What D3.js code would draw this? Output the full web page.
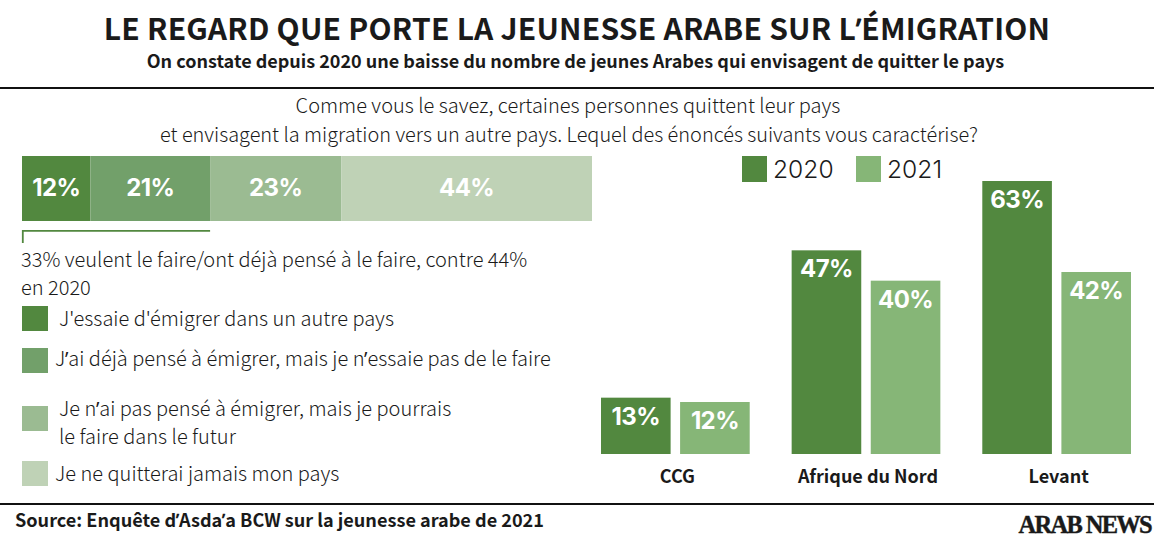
<!DOCTYPE html>
<html>
<head>
<meta charset="utf-8">
<script src="https://cdn.jsdelivr.net/npm/d3@7"></script>
<style>
  /* the CJK font has a full-width apostrophe, take that one glyph from elsewhere */
  @font-face { font-family: "Apos"; src: local("Open Sans"); unicode-range: U+2019; }
  html, body { margin: 0; padding: 0; background: #fff; }
  svg { display: block; }
  text { font-family: "Apos", "Noto Sans CJK SC", "Noto Sans", sans-serif; fill: #1a1a1a; }
  .num { font-family: Inter, sans-serif; font-weight: 700; fill: #fff; letter-spacing: -0.6px; }
</style>
</head>
<body>
<div id="chart"></div>
<script>
// stacked bar
var answers = [
  "J'essaie d'émigrer dans un autre pays",
  "J’ai déjà pensé à émigrer, mais je n’essaie pas de le faire",
  "Je n’ai pas pensé à émigrer, mais je pourrais|le faire dans le futur",
  "Je ne quitterai jamais mon pays"
];
var answerValues = [12, 21, 23, 44];
var answerColors = ["#52883f", "#72a06a", "#9bbb92", "#bfd2b6"];

// grouped bars
var regions = ["CCG", "Afrique du Nord", "Levant"];
var years = ["2020", "2021"];
var values2020 = [13, 47, 63];
var values2021 = [12, 40, 42];
var yearColors = ["#52883f", "#86b677"];

var width = 1154, height = 539;

var svg = d3.select("#chart").append("svg")
    .attr("width", width)
    .attr("height", height);

function addText(x, y, str, size, weight, anchor, spacing) {
  return svg.append("text")
      .attr("x", x)
      .attr("y", y)
      .attr("font-size", size)
      .attr("font-weight", weight || 300)
      .attr("text-anchor", anchor || "start")
      .attr("letter-spacing", spacing || 0)
      .text(str);
}

// header
addText(577, 40, "LE REGARD QUE PORTE LA JEUNESSE ARABE SUR L’ÉMIGRATION", 30, 700, "middle", 0.22);
addText(575.5, 68, "On constate depuis 2020 une baisse du nombre de jeunes Arabes qui envisagent de quitter le pays", 18, 700, "middle");
svg.append("rect").attr("x", 0).attr("y", 87).attr("width", width).attr("height", 2).attr("fill", "#111");

addText(568, 113, "Comme vous le savez, certaines personnes quittent leur pays", 20, 300, "middle");
addText(569, 142, "et envisagent la migration vers un autre pays. Lequel des énoncés suivants vous caractérise?", 19.9, 300, "middle");

// stacked bar
var xStack = d3.scaleLinear().domain([0, d3.sum(answerValues)]).range([22, 592]);
var stackTop = 156, stackH = 65;
var cum = d3.cumsum(answerValues);

svg.selectAll(".seg")
    .data(answerValues)
  .enter().append("rect")
    .attr("class", "seg")
    .attr("x", function(d, i) { return xStack(cum[i] - d); })
    .attr("y", stackTop)
    .attr("width", function(d) { return xStack(d) - xStack(0); })
    .attr("height", stackH)
    .attr("fill", function(d, i) { return answerColors[i]; });

svg.selectAll(".segLabel")
    .data(answerValues)
  .enter().append("text")
    .attr("class", "segLabel num")
    .attr("x", function(d, i) { return xStack(cum[i] - d / 2); })
    .attr("y", stackTop + 40)
    .attr("font-size", 24)
    .attr("text-anchor", "middle")
    .text(function(d) { return d + "%"; });

// bracket under the first two segments
svg.append("path")
    .attr("d", "M22.8,243V230.8H" + xStack(cum[1]))
    .attr("fill", "none")
    .attr("stroke", "#52883f")
    .attr("stroke-width", 1.8);

addText(21, 267, "33% veulent le faire/ont déjà pensé à le faire, contre 44%", 20);
addText(21, 295, "en 2020", 20);

// legend of the stacked bar
var legendY = [306, 348, 406, 461];
var legendTextX = [59, 55, 59, 55];
var legendTextY = [326, 366, 416, 481];

answers.forEach(function(a, i) {
  svg.append("rect")
      .attr("x", 22)
      .attr("y", legendY[i])
      .attr("width", 26)
      .attr("height", 25)
      .attr("fill", answerColors[i]);
  a.split("|").forEach(function(line, j) {
    addText(legendTextX[i], legendTextY[i] + j * 28, line, 20);
  });
});

// grouped bars
var baseline = 454;
var x0 = d3.scaleBand().domain(regions).range([601, 1131]).paddingInner(0.22);
var x1 = d3.scaleBand().domain(years).range([0, x0.bandwidth()]).paddingInner(0.12);
var y = d3.scaleLinear().domain([0, 63]).range([baseline, 181]);

var groups = svg.selectAll(".group")
    .data(regions)
  .enter().append("g")
    .attr("class", "group")
    .attr("transform", function(d) { return "translate(" + x0(d) + ",0)"; });

[values2020, values2021].forEach(function(vals, k) {
  groups.append("rect")
      .attr("x", x1(years[k]))
      .attr("y", function(d, i) { return y(vals[i]); })
      .attr("width", x1.bandwidth())
      .attr("height", function(d, i) { return baseline - y(vals[i]); })
      .attr("fill", yearColors[k]);

  groups.append("text")
      .attr("class", "num")
      .attr("x", x1(years[k]) + x1.bandwidth() / 2)
      .attr("y", function(d, i) { return y(vals[i]) + 27; })
      .attr("font-size", 24)
      .attr("text-anchor", "middle")
      .text(function(d, i) { return vals[i] + "%"; });
});

groups.append("text")
    .attr("x", x0.bandwidth() / 2 + 2)
    .attr("y", 483)
    .attr("font-size", 18)
    .attr("font-weight", 700)
    .attr("text-anchor", "middle")
    .text(function(d) { return d; });

// year legend
var yearLegendX = [742, 856];
years.forEach(function(yr, i) {
  svg.append("rect")
      .attr("x", yearLegendX[i])
      .attr("y", 156)
      .attr("width", 25)
      .attr("height", 26)
      .attr("fill", yearColors[i]);
  svg.append("text")
      .attr("x", yearLegendX[i] + 31)
      .attr("y", 178)
      .style("font-family", "Inter, sans-serif")
      .attr("font-size", 24.6)
      .attr("font-weight", 300)
      .text(yr);
});

// footer
svg.append("rect").attr("x", 0).attr("y", 503).attr("width", width).attr("height", 2).attr("fill", "#111");
addText(15, 527, "Source: Enquête d’Asda’a BCW sur la jeunesse arabe de 2021", 18.1, 700);

svg.append("text")
    .attr("x", 1151)
    .attr("y", 533)
    .attr("text-anchor", "end")
    .attr("font-size", 24.5)
    .attr("font-weight", 700)
    .attr("letter-spacing", -1.7)
    .attr("stroke", "#1a1a1a")
    .attr("stroke-width", 0.4)
    .style("font-family", "'Liberation Serif', serif")
    .text("ARAB NEWS");
</script>
</body>
</html>
